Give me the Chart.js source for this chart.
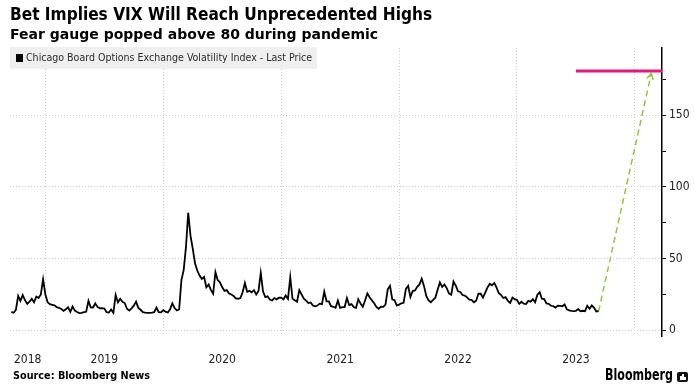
<!DOCTYPE html>
<html>
<head>
<meta charset="utf-8">
<title>VIX</title>
<script src="https://cdn.jsdelivr.net/npm/chart.js@4.4.1/dist/chart.umd.min.js"></script>
<style>
  html, body { margin: 0; padding: 0; background: #fff; }
  #page { position: relative; width: 694px; height: 388px; overflow: hidden; }
  #chart { position: absolute; left: 0; top: 0; }
  .txt { position: absolute; white-space: nowrap; transform-origin: 0 50%; line-height: 1; color: #000; }
  #title { left: 10px; top: 6px; font-weight: bold; font-size: 17px; font-family: "DejaVu Sans Condensed", "DejaVu Sans", sans-serif; }
  #subtitle { left: 10px; top: 27px; font-weight: bold; font-size: 14px; font-family: "DejaVu Sans", sans-serif; }
  #legend { position: absolute; left: 10px; top: 47px; width: 307px; height: 22px; background: #efefef; }
  #legend .sq { position: absolute; left: 6px; top: 7px; width: 7px; height: 8px; background: #000; }
  #legend .lbl { position: absolute; left: 16px; top: 0; line-height: 22px; font-size: 11px; font-family: "DejaVu Sans Condensed", "DejaVu Sans", sans-serif; color: #2a2a2a; white-space: nowrap; transform-origin: 0 50%; }
  #source { left: 13px; top: 370px; font-weight: bold; font-size: 11px; font-family: "DejaVu Sans", sans-serif; }
  #brand { left: 605px; top: 368px; font-weight: bold; font-size: 15px; font-family: "DejaVu Sans", sans-serif; }
  #icon { position: absolute; left: 677px; top: 372px; width: 11px; height: 10px; background: #111; border-radius: 2px; }
  #icon i { position: absolute; bottom: 2px; width: 1.5px; background: #fff; }
</style>
</head>
<body>
<div id="page">
  <canvas id="chart" width="694" height="388"></canvas>
  <div id="title" class="txt">Bet Implies VIX Will Reach Unprecedented Highs</div>
  <div id="subtitle" class="txt">Fear gauge popped above 80 during pandemic</div>
  <div id="legend"><div class="sq"></div><div class="lbl" id="legendText">Chicago Board Options Exchange Volatility Index - Last Price</div></div>
  <div id="source" class="txt">Source: Bloomberg News</div>
  <div id="brand" class="txt">Bloomberg</div>
  <div id="icon"><i style="left:3px;height:4px"></i><i style="left:5px;height:6px"></i><i style="left:7px;height:3px"></i></div>
</div>
<script>
// weekly VIX closes (spike weeks use the intra-week high)
const vix2018 = [12.8, 12.2, 14.2, 24.0, 20.5, 24.5, 21.0, 18.5, 20.0, 22.0, 19.5, 23.5, 22.5, 25.0, 35.5]; // from week 37
const vix2019 = [25.0, 19.5, 18.2, 17.8, 17.4, 16.1, 15.7, 14.9, 13.5, 14.6, 16.1, 12.9, 16.5, 13.7, 12.8, 12.0, 12.1, 12.7, 12.9, 20.5,
                 16.0, 15.9, 18.7, 16.3, 15.3, 15.4, 15.1, 12.6, 12.4, 14.5, 12.2, 24.6, 19.5, 22.0, 19.9, 19.0, 15.0, 13.7, 15.3, 17.2,
                 20.0, 15.6, 14.3, 12.7, 12.3, 12.1, 12.1, 12.3, 12.6, 15.9, 12.6, 12.5];
const vix2020 = [14.0, 13.0, 12.4, 14.6, 18.8, 15.5, 13.8, 14.5, 35.0, 42.0, 57.8, 82.0, 66.0, 57.0, 46.8, 41.7, 38.2, 35.9, 37.2, 30.0,
                 31.9, 28.2, 25.5, 40.5, 35.0, 33.5, 30.0, 27.5, 28.0, 25.7, 25.0, 24.0, 22.2, 22.0, 22.5, 26.5, 33.0, 26.9, 27.5, 26.4,
                 28.0, 25.0, 27.4, 40.0, 27.0, 23.1, 23.7, 21.5, 20.8, 22.5, 21.6, 22.7];
const vix2021 = [22.8, 21.6, 24.3, 21.9, 37.0, 22.0, 20.9, 19.9, 28.0, 25.0, 22.0, 20.7, 19.0, 19.4, 17.3, 16.7, 17.3, 18.6, 18.2, 27.0,
                 20.2, 20.2, 16.8, 16.4, 15.7, 20.7, 15.6, 16.2, 16.2, 22.5, 17.6, 18.2, 16.2, 15.5, 21.7, 18.6, 16.4, 20.8, 25.7, 23.1,
                 21.0, 18.8, 16.3, 15.0, 16.5, 16.3, 17.9, 28.6, 31.0, 21.6, 21.0, 17.2];
const vix2022 = [17.9, 18.8, 19.2, 28.9, 31.0, 23.2, 27.4, 27.8, 30.3, 32.0, 36.0, 30.8, 23.9, 20.8, 19.6, 21.2, 22.7, 28.2, 33.4, 30.2,
                 32.0, 29.4, 25.7, 24.8, 34.0, 31.1, 27.2, 26.7, 24.6, 24.2, 23.0, 21.3, 21.2, 19.5, 20.6, 25.6, 25.5, 22.8, 26.3, 29.9,
                 32.5, 31.4, 33.0, 29.7, 25.8, 24.6, 22.5, 23.1, 20.5, 19.1, 22.8, 21.7];
const vix2023 = [21.1, 18.4, 19.9, 18.5, 18.3, 20.5, 20.0, 21.7, 19.6, 24.8, 26.5, 22.0, 21.7, 18.7, 18.4, 17.1, 16.8, 15.8, 17.2, 17.0,
                 16.8, 18.0, 14.6, 13.8, 13.5, 13.4, 13.6, 14.8, 13.3, 13.6, 13.3, 17.1, 15.0, 17.3, 15.7, 13.1, 13.3];

const yearLabels = ['2018', '2019', '2020', '2021', '2022', '2023'];
const gridYears = [2019, 2020, 2021, 2022, 2023, 2024];
const yTicks = [0, 25, 50, 75, 100, 125, 150, 175];

// the bet: VIX to ~180 by early 2024
const targetLevel = 181;
const arrowLevel = 179.5;
const targetFrom = 2023.5;
const targetDate = 2024.14;

const xMin = 2018.70, xMax = 2024.23;
const yMin = -4, yMax = 197;

const FONT = '"DejaVu Sans Condensed", "DejaVu Sans", sans-serif';
const projColor = '#8dc63f';

function weekly(year, values, firstWeek = 0) {
  return values.map((v, i) => ({ x: year + (firstWeek + i) / 52, y: v }));
}

const vixPoints = [
  ...weekly(2018, vix2018, 37),
  ...weekly(2019, vix2019),
  ...weekly(2020, vix2020),
  ...weekly(2021, vix2021),
  ...weekly(2022, vix2022),
  ...weekly(2023, vix2023),
];
const last = vixPoints[vixPoints.length - 1];

const arrowHead = {
  id: 'arrowHead',
  afterDatasetsDraw(chart) {
    const pts = chart.getDatasetMeta(1).data;
    const a = pts[0], b = pts[pts.length - 1];
    const ang = Math.atan2(b.y - a.y, b.x - a.x);
    const ctx = chart.ctx;
    ctx.save();
    ctx.strokeStyle = projColor;
    ctx.lineWidth = 1.5;
    ctx.beginPath();
    ctx.moveTo(b.x - 7 * Math.cos(ang - 0.45), b.y - 7 * Math.sin(ang - 0.45));
    ctx.lineTo(b.x, b.y);
    ctx.lineTo(b.x - 7 * Math.cos(ang + 0.45), b.y - 7 * Math.sin(ang + 0.45));
    ctx.stroke();
    ctx.restore();
  }
};

// keep the plot box where the reference has it, whatever the label sizes
const noPad = s => { s.paddingLeft = 0; s.paddingRight = 0; s.paddingTop = 0; s.paddingBottom = 0; };

new Chart(document.getElementById('chart'), {
  type: 'line',
  data: {
    datasets: [
      {
        data: vixPoints,
        borderColor: '#000',
        borderWidth: 1.8,
        pointRadius: 0,
        tension: 0,
        xAxisID: 'x'
      },
      {
        data: [last, { x: targetDate, y: arrowLevel }],
        borderColor: projColor,
        borderWidth: 1.5,
        borderDash: [6, 4],
        pointRadius: 0,
        xAxisID: 'x'
      },
      {
        data: [{ x: targetFrom, y: targetLevel }, { x: xMax, y: targetLevel }],
        borderColor: '#e6177e',
        borderWidth: 3,
        pointRadius: 0,
        xAxisID: 'x'
      }
    ]
  },
  options: {
    responsive: false,
    maintainAspectRatio: false,
    animation: false,
    layout: { padding: { left: 10, right: 0, top: 48, bottom: 22 } },
    plugins: { legend: { display: false }, tooltip: { enabled: false }, title: { display: false } },
    scales: {
      x: {
        type: 'linear',
        min: xMin,
        max: xMax,
        afterBuildTicks: s => { s.ticks = gridYears.map(v => ({ value: v })); },
        afterFit: s => { s.height = 0; noPad(s); },
        grid: { color: '#cfcfcf', lineWidth: 1, drawTicks: false },
        border: { display: false, dash: [1, 2] },
        ticks: { display: false }
      },
      xl: {
        type: 'linear',
        position: 'bottom',
        min: xMin,
        max: xMax,
        afterBuildTicks: s => {
          s.ticks = yearLabels.map(l => {
            const y0 = Math.max(+l, xMin), y1 = Math.min(+l + 1, xMax);
            return { value: (y0 + y1) / 2 };
          });
        },
        afterFit: s => { s.height = 30; noPad(s); },
        grid: { display: false, drawTicks: false },
        border: { display: false },
        ticks: {
          autoSkip: false,
          maxRotation: 0,
          padding: 17,
          color: '#222',
          font: { family: FONT, size: 12 },
          callback: v => yearLabels.find(l => Math.floor(v) === +l) || ''
        }
      },
      y: {
        type: 'linear',
        position: 'right',
        min: yMin,
        max: yMax,
        afterBuildTicks: s => { s.ticks = yTicks.map(v => ({ value: v })); },
        afterFit: s => { s.width = 32; noPad(s); },
        grid: {
          color: c => (c.tick && c.tick.value % 50 === 0) ? '#cfcfcf' : 'rgba(0,0,0,0)',
          tickColor: '#000',
          tickLength: 4,
          tickBorderDash: [],
          lineWidth: 1
        },
        border: { display: true, color: '#000', width: 1.5, dash: [1, 2] },
        ticks: {
          padding: 3,
          color: '#222',
          font: { family: FONT, size: 12 },
          callback: v => (v % 50 === 0 ? String(v) : '')
        }
      }
    }
  },
  plugins: [arrowHead]
});

function fit(id, w) {
  const el = document.getElementById(id);
  const k = w / el.getBoundingClientRect().width;
  el.style.transform = 'scaleX(' + k.toFixed(3) + ')';
}
fit('title', 422);
fit('subtitle', 368);
fit('legendText', 286);
fit('source', 137);
fit('brand', 68);
</script>
</body>
</html>
